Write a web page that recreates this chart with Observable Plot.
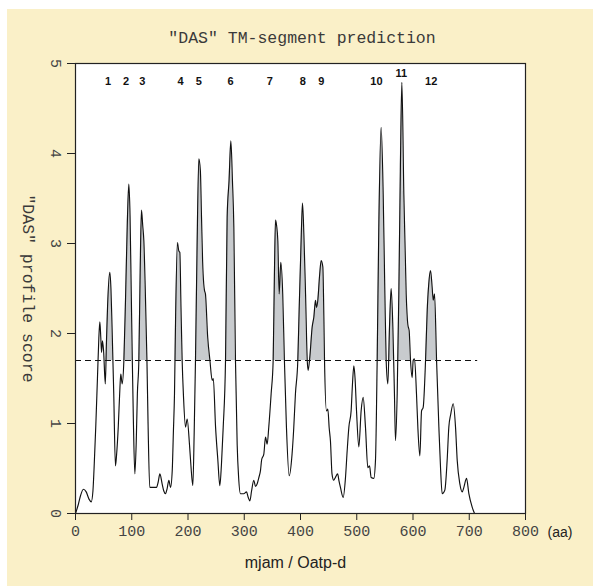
<!DOCTYPE html>
<html><head><meta charset="utf-8">
<script src="https://cdn.jsdelivr.net/npm/d3@7"></script>
<script src="https://cdn.jsdelivr.net/npm/@observablehq/plot@0.6"></script>
<style>
html,body{margin:0;padding:0;background:#fff;}
#panel{position:absolute;left:7px;top:9px;width:586px;height:577px;background:#faf0c8;}
#title{position:absolute;left:0;top:29px;width:604px;text-align:center;font-family:"Liberation Mono",monospace;font-size:16.5px;color:#3a3a3a;}
#chart{position:absolute;left:0;top:50px;}
</style></head><body>
<div id="panel"></div>
<div id="title">"DAS" TM-segment prediction</div>
<div id="chart"></div>
<script>
// residue position (aa) and DAS profile score
const aa = [0,5,9,14,19,24,28,31,33,36,39,41.5,43.3,45,46.3,48,50,53,55,57,61,63,65,68,71,73,76,79,80.5,83,86,89,92,94.8,97,99,101,103,105.5,108,110,112.6,115,117.3,119.5,121.5,124,127,129,132,136,140,144,147,150,154,157,160,163,166,169,172,174,176,178,181.3,183.5,185.5,187.5,189.6,192,195.6,198.5,202.6,205,208.6,211,213.3,216,219.3,222,224,226,228,229.3,231,235,239,243,245,249,253,256.6,259.5,262.6,266.7,269.6,273,276.2,279,281.5,284.4,287.4,290,293.3,299,304,307,310,313,317,320,323,326,328.9,331,334.8,337.8,340.7,343.6,347.8,351.4,353.5,355.6,357.5,359.7,362,365,368.4,371.4,375,379.9,385,388,391,395.2,397.6,400.5,403.6,406,409,412,413.6,416.6,420.7,423.7,426.7,428.4,430.8,434,436.8,439.7,441.5,442.7,446.2,448.6,451,453.3,456,459,462,466,468.5,471,475.9,480,483,486,490,492.5,494.8,497,499.6,503.7,507.8,511.4,515.5,519.7,522.7,525.6,530.3,533.3,536.3,539.2,543.4,547,550,552.3,555.3,558.2,561.2,564.2,567,568.9,571.9,574.8,577.5,580.2,583.7,587.9,590.8,593.2,595.6,598.5,600.3,602.7,606.2,608.6,612.2,615.2,618.1,622.3,625.3,628,631.2,634.1,635.9,638.3,641.9,646,649,651.9,656.6,660.7,663.7,667,671.5,675.6,678.6,683.3,687.5,690.4,695.2,699.3,705.2,709.4];
const score = [0,0.1,0.2,0.27,0.24,0.16,0.13,0.25,0.5,0.96,1.5,1.95,2.13,1.95,1.79,1.92,1.8,1.44,1.9,2.3,2.68,2.5,2.07,1.33,0.53,0.65,0.96,1.4,1.55,1.44,1.7,2.4,3.2,3.66,3.3,2.5,1.7,1.0,0.44,0.8,1.33,1.7,2.7,3.37,3.2,3.03,2.5,1.7,1.0,0.29,0.29,0.29,0.29,0.35,0.44,0.33,0.25,0.22,0.28,0.37,0.29,0.48,0.9,1.33,2.2,3.01,2.92,2.9,2.3,1.7,1.3,0.96,1.05,0.77,0.55,0.31,0.9,1.7,2.9,3.94,3.81,3.3,2.8,2.55,2.48,2.44,1.96,1.7,1.48,1.5,0.96,0.6,0.31,0.55,0.96,1.7,3.29,3.7,4.14,3.7,3.18,1.7,0.77,0.4,0.22,0.22,0.24,0.18,0.14,0.25,0.37,0.3,0.33,0.4,0.48,0.6,0.66,0.85,0.77,0.96,1.33,1.7,2.6,3.26,3.2,3.03,2.44,2.79,2.44,1.7,0.96,0.42,0.66,0.95,1.33,1.7,2.26,2.9,3.45,3.1,2.44,1.7,1.59,1.74,2.07,2.18,2.37,2.29,2.37,2.65,2.81,2.74,2.2,1.7,1.14,1.16,0.95,0.8,0.44,0.37,0.4,0.44,0.36,0.29,0.18,0.4,0.7,0.96,1.14,1.45,1.64,1.5,1.14,0.74,1.14,1.29,0.96,0.51,0.53,0.4,0.39,0.59,1.7,3.18,4.29,3.55,2.44,1.7,1.44,2.07,2.5,2.07,1.33,0.81,1.33,2.44,3.8,4.79,3.55,2.44,2.1,2.03,1.7,1.51,1.7,1.72,1.33,0.96,0.64,1.14,1.18,1.7,2.26,2.55,2.7,2.51,2.37,2.44,1.7,0.96,0.5,0.22,0.26,0.59,0.96,1.1,1.22,0.96,0.59,0.33,0.24,0.29,0.39,0.22,0.07,0];
const cutoff = 1.7;
const fillStart = 53; // TM shading starts at segment 1
const tmLabels = ["1","2","3","4","5","6","7","8","9","10","11","12"];
const tmPos = [58,90,118.6,186.7,219.2,275.6,345.4,404,436.8,535.1,579,632.3];
const tmY = [4.8,4.8,4.8,4.8,4.8,4.8,4.8,4.8,4.8,4.8,4.89,4.8];
const xTicks = [0,100,200,300,400,500,600,700,800];
const yTicks = [0,1,2,3,4,5];

const data = aa.map((a,i)=>({aa:a, score:score[i]}));
const fillData = data.filter(d=>d.aa>=fillStart);
const mono = "Liberation Mono, Courier New, monospace";
const sans = "Liberation Sans, Arial, sans-serif";

const chart = Plot.plot({
  width: 593, height: 536,
  marginLeft: 75, marginRight: 68, marginTop: 13, marginBottom: 73,
  x: {domain:[0,800]},
  y: {domain:[0,5]},
  style: {background:"transparent", overflow:"visible"},
  marks: [
    Plot.frame({fill:"white", stroke:"none"}),
    Plot.areaY(fillData, {x:"aa", y1: ()=>cutoff, y2:"score", curve:"monotone-x", fill:"#c8cbce"}),
    Plot.rect([0], {x1: ()=>0, x2: ()=>800, y1: ()=>0, y2: ()=>cutoff, fill:"white"}),
    Plot.ruleY([cutoff], {x1: ()=>0, x2: ()=>715, stroke:"#111", strokeWidth:1, strokeDasharray:"6,4"}),
    Plot.line(data, {x:"aa", y:"score", curve:"monotone-x", stroke:"#111", strokeWidth:1.15}),
    Plot.frame({stroke:"#222", strokeWidth:1.2}),
    Plot.axisX({ticks:xTicks, tickSize:7, tickPadding:5, label:null, fontFamily:mono, fontSize:15, fill:"#444", stroke:"#222"}),
    Plot.axisY({ticks:yTicks, tickSize:8, tickFormat:()=>"", label:null, stroke:"#222"}),
    Plot.text(yTicks, {x: ()=>0, y: d=>d, text: d=>String(d), dx:-20, rotate:90, textAnchor:"middle", fontFamily:mono, fontSize:15, fill:"#444"}),
    Plot.text(["\"DAS\" profile score"], {frameAnchor:"left", y: ()=>2.5, dx:-47.5, rotate:90, textAnchor:"middle", fontFamily:mono, fontSize:16.5, fill:"#3a3a3a"}),
    Plot.text(tmLabels, {x:(d,i)=>tmPos[i], y:(d,i)=>tmY[i], text:d=>d, fontFamily:sans, fontWeight:"bold", fontSize:11, fill:"#111"}),
    Plot.text(["(aa)"], {x: ()=>800, y: ()=>0, dx:22, dy:19, textAnchor:"start", fontFamily:sans, fontSize:14, fill:"#222"}),
    Plot.text(["mjam / Oatp-d"], {x: ()=>391, y: ()=>0, dy:49, fontFamily:sans, fontSize:16, fill:"#222"})
  ]
});
document.getElementById("chart").appendChild(chart);
</script></body></html>
